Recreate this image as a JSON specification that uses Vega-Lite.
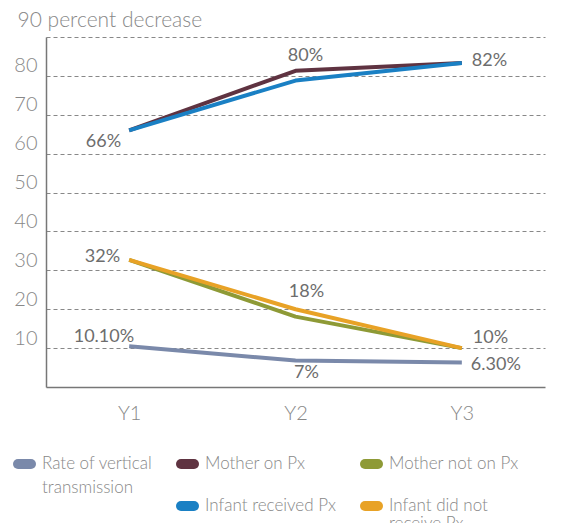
{
  "$schema": "https://vega.github.io/schema/vega-lite/v6.json",
  "width": 499,
  "height": 350,
  "autosize": {"type": "none"},
  "padding": {"left": 46, "top": 37, "right": 21, "bottom": 136},
  "background": "white",
  "config": {"view": {"stroke": null}, "font": "Lato"},
  "datasets": {
    "series": [
      {"series": "Rate of vertical transmission", "year": "Y1", "value": 10.5},
      {"series": "Rate of vertical transmission", "year": "Y2", "value": 6.8},
      {"series": "Rate of vertical transmission", "year": "Y3", "value": 6.3},
      {"series": "Mother on Px", "year": "Y1", "value": 66},
      {"series": "Mother on Px", "year": "Y2", "value": 81.3},
      {"series": "Mother on Px", "year": "Y3", "value": 83.3},
      {"series": "Mother not on Px", "year": "Y1", "value": 32.7},
      {"series": "Mother not on Px", "year": "Y2", "value": 18.1},
      {"series": "Mother not on Px", "year": "Y3", "value": 10},
      {"series": "Infant received Px", "year": "Y1", "value": 66},
      {"series": "Infant received Px", "year": "Y2", "value": 78.8},
      {"series": "Infant received Px", "year": "Y3", "value": 83.3},
      {"series": "Infant did not receive Px", "year": "Y1", "value": 32.7},
      {"series": "Infant did not receive Px", "year": "Y2", "value": 20},
      {"series": "Infant did not receive Px", "year": "Y3", "value": 10}
    ],
    "labels": [
      {"id": "a", "year": "Y1", "value": 66, "label": "66%"},
      {"id": "b", "year": "Y1", "value": 32.7, "label": "32%"},
      {"id": "c", "year": "Y1", "value": 10.5, "label": "10.10%"},
      {"id": "d", "year": "Y2", "value": 81.3, "label": "80%"},
      {"id": "e", "year": "Y2", "value": 18.1, "label": "18%"},
      {"id": "f", "year": "Y2", "value": 6.8, "label": "7%"},
      {"id": "g", "year": "Y3", "value": 83.3, "label": "82%"},
      {"id": "h", "year": "Y3", "value": 10, "label": "10%"},
      {"id": "i", "year": "Y3", "value": 6.3, "label": "6.30%"}
    ]
  },
  "encoding": {
    "x": {
      "field": "year", "type": "nominal",
      "scale": {"type": "point", "padding": 0.5},
      "axis": {
        "title": null, "domainColor": "#777777", "domainWidth": 1.5, "ticks": false,
        "labelAngle": 0, "labelFontSize": 20, "labelFontWeight": 300, "labelColor": "#888888",
        "labelPadding": 16, "grid": false
      }
    },
    "y": {
      "field": "value", "type": "quantitative",
      "scale": {"domain": [0, 90], "nice": false},
      "axis": {
        "values": [10, 20, 30, 40, 50, 60, 70, 80, 90],
        "labelExpr": "datum.value == 90 ? '' : datum.label",
        "domainColor": "#777777", "domainWidth": 1.5, "ticks": false,
        "labelFontSize": 20, "labelFontWeight": 300, "labelColor": "#888888",
        "labelPadding": 9, "labelOffset": -10, "labelBaseline": "middle",
        "grid": true, "gridColor": "#888888", "gridDash": [4, 3], "gridWidth": 1.2,
        "title": "90 percent decrease", "titleAngle": 0, "titleAlign": "left",
        "titleBaseline": "middle", "titleX": -29, "titleY": -17,
        "titleFontSize": 21, "titleFontWeight": 300, "titleColor": "#888888"
      }
    }
  },
  "layer": [
    {
      "data": {"name": "series"},
      "mark": {"type": "line", "strokeWidth": 4, "strokeJoin": "round"},
      "encoding": {
        "color": {
          "field": "series", "type": "nominal",
          "scale": {
            "domain": ["Rate of vertical transmission", "Mother on Px", "Mother not on Px", " ", "Infant received Px", "Infant did not receive Px"],
            "range": ["#7a89aa", "#5f3341", "#8e9a36", "transparent", "#1a80c4", "#e8a226"]
          },
          "legend": {
            "title": null, "orient": "none", "legendX": -33, "legendY": 417,
            "direction": "horizontal",
            "columns": 3, "gridAlign": "each", "clipHeight": 20,
            "columnPadding": 23, "rowPadding": -44,
            "symbolType": "stroke", "symbolStrokeWidth": 10, "symbolSize": 169,
            "labelFontSize": 17, "labelFontWeight": 300, "labelColor": "#888888", "labelOffset": 6,
            "labelLimit": 300,
            "labelExpr": "datum.label == 'Rate of vertical transmission' ? ['Rate of vertical', 'transmission'] : datum.label == 'Infant did not receive Px' ? ['Infant did not', 'receive Px'] : [datum.label, ' ']",
            "encode": {
              "symbols": {"update": {"strokeCap": {"value": "round"}}},
              "labels": {"update": {
                "lineHeight": {"signal": "indexof(['Rate of vertical transmission', 'Mother on Px', 'Mother not on Px'], datum.value) >= 0 ? 24 : 18"}
              }}
            }
          }
        }
      }
    },
    {"data": {"name": "labels"}, "transform": [{"filter": "datum.id == 'a'"}],
     "mark": {"type": "text", "align": "right", "baseline": "middle", "dx": -8, "dy": 12, "fontSize": 18, "color": "#6d6d6d"},
     "encoding": {"text": {"field": "label"}}},
    {"data": {"name": "labels"}, "transform": [{"filter": "datum.id == 'b'"}],
     "mark": {"type": "text", "align": "right", "baseline": "middle", "dx": -9, "dy": -3, "fontSize": 18, "color": "#6d6d6d"},
     "encoding": {"text": {"field": "label"}}},
    {"data": {"name": "labels"}, "transform": [{"filter": "datum.id == 'c'"}],
     "mark": {"type": "text", "align": "right", "baseline": "middle", "dx": 5, "dy": -9, "fontSize": 18, "color": "#6d6d6d"},
     "encoding": {"text": {"field": "label"}}},
    {"data": {"name": "labels"}, "transform": [{"filter": "datum.id == 'd'"}],
     "mark": {"type": "text", "align": "center", "baseline": "middle", "dx": 10, "dy": -15, "fontSize": 18, "color": "#6d6d6d"},
     "encoding": {"text": {"field": "label"}}},
    {"data": {"name": "labels"}, "transform": [{"filter": "datum.id == 'e'"}],
     "mark": {"type": "text", "align": "center", "baseline": "middle", "dx": 11, "dy": -25, "fontSize": 18, "color": "#6d6d6d"},
     "encoding": {"text": {"field": "label"}}},
    {"data": {"name": "labels"}, "transform": [{"filter": "datum.id == 'f'"}],
     "mark": {"type": "text", "align": "center", "baseline": "middle", "dx": 11, "dy": 12, "fontSize": 18, "color": "#6d6d6d"},
     "encoding": {"text": {"field": "label"}}},
    {"data": {"name": "labels"}, "transform": [{"filter": "datum.id == 'g'"}],
     "mark": {"type": "text", "align": "left", "baseline": "middle", "dx": 10, "dy": -2, "fontSize": 18, "color": "#6d6d6d"},
     "encoding": {"text": {"field": "label"}}},
    {"data": {"name": "labels"}, "transform": [{"filter": "datum.id == 'h'"}],
     "mark": {"type": "text", "align": "left", "baseline": "middle", "dx": 11, "dy": -10, "fontSize": 18, "color": "#6d6d6d"},
     "encoding": {"text": {"field": "label"}}},
    {"data": {"name": "labels"}, "transform": [{"filter": "datum.id == 'i'"}],
     "mark": {"type": "text", "align": "left", "baseline": "middle", "dx": 9, "dy": 2, "fontSize": 18, "color": "#6d6d6d"},
     "encoding": {"text": {"field": "label"}}}
  ]
}
